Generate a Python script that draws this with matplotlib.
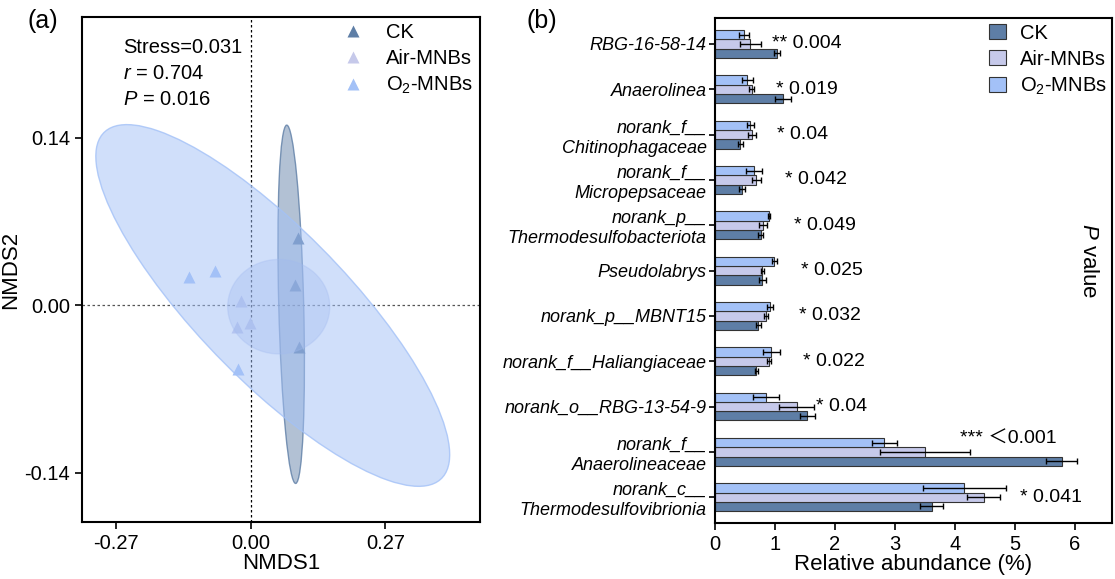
import numpy as np
import matplotlib.pyplot as plt
from matplotlib.patches import Ellipse, Patch
from matplotlib.lines import Line2D

plt.rcParams['font.family'] = ['Liberation Sans', 'DejaVu Sans']
plt.rcParams['mathtext.fontset'] = 'custom'
plt.rcParams['mathtext.rm'] = 'Liberation Sans'
plt.rcParams['mathtext.it'] = 'Liberation Sans:italic'
plt.rcParams['axes.unicode_minus'] = False

groups = ['CK', 'Air-MNBs', 'O$_2$-MNBs']
colors = ['#5e7ea6', '#c6c9ea', '#a3c1f7']

# NMDS site scores
ck_x = [0.094, 0.088, 0.096]
ck_y = [0.056, 0.017, -0.035]
air_x = [-0.020, -0.002, -0.028]
air_y = [0.004, -0.015, -0.018]
o2_x = [-0.124, -0.072, -0.026]
o2_y = [0.024, 0.029, -0.053]

# confidence ellipses (CK, Air, O2)
ell_cx = [0.081, 0.056, 0.044]
ell_cy = [0.001, -0.001, 0.0]
ell_w = [0.300, 0.205, 0.755]
ell_h = [0.050, 0.079, 0.161]
ell_ang = [93.5, 0.0, -20.3]

# relative abundance of the differential genera (%)
taxa = ['RBG-16-58-14', 'Anaerolinea', 'norank_f__\nChitinophagaceae',
        'norank_f__\nMicropepsaceae', 'norank_p__\nThermodesulfobacteriota',
        'Pseudolabrys', 'norank_p__MBNT15', 'norank_f__Haliangiaceae',
        'norank_o__RBG-13-54-9', 'norank_f__\nAnaerolineaceae',
        'norank_c__\nThermodesulfovibrionia']
ck_mean = [1.04, 1.13, 0.42, 0.45, 0.76, 0.79, 0.72, 0.69, 1.54, 5.78, 3.61]
ck_err = [0.05, 0.13, 0.04, 0.05, 0.04, 0.06, 0.04, 0.03, 0.13, 0.26, 0.19]
air_mean = [0.59, 0.61, 0.62, 0.69, 0.80, 0.79, 0.85, 0.90, 1.36, 3.50, 4.48]
air_err = [0.18, 0.04, 0.07, 0.08, 0.06, 0.03, 0.03, 0.04, 0.29, 0.75, 0.28]
o2_mean = [0.48, 0.54, 0.59, 0.65, 0.90, 0.99, 0.92, 0.94, 0.85, 2.82, 4.16]
o2_err = [0.08, 0.09, 0.06, 0.14, 0.02, 0.04, 0.05, 0.14, 0.22, 0.21, 0.69]
p_text = ['** 0.004', '* 0.019', '* 0.04', '* 0.042', '* 0.049', '* 0.025',
          '* 0.032', '* 0.022', '* 0.04', '*** \uff1c0.001', '* 0.041']
p_x = [0.95, 1.01, 1.04, 1.16, 1.31, 1.44, 1.40, 1.47, 1.68, 4.08, 5.09]
p_dy = [0, 0, 0, 0, 0, 0, 0, 0, 0, 0.27, 0]

fig = plt.figure(figsize=(11.15, 5.79), dpi=100)

# ---- (a) NMDS ----
ax1 = fig.add_axes([0.0735, 0.0984, 0.357, 0.872])
ax1.axvline(0, color='black', lw=0.9, ls=(0, (2, 2)), zorder=1)
ax1.axhline(0, color='#555555', lw=0.9, ls=(0, (2, 2)), zorder=1)

for xs, ys, c in zip([ck_x, air_x, o2_x], [ck_y, air_y, o2_y], colors):
    ax1.plot(xs, ys, '^', color=c, ms=9, mec='none', zorder=2)

# CK first, O2 last so the big ellipse tints the overlaps
ell_fill = ['#5e7ea6', '#9fb3e6', '#a3c1f7']
ell_alpha = [0.48, 0.35, 0.5]
for i in [0, 1, 2]:
    e = Ellipse((ell_cx[i], ell_cy[i]), ell_w[i], ell_h[i], angle=ell_ang[i],
                facecolor=ell_fill[i], alpha=ell_alpha[i], edgecolor='none', zorder=3)
    ax1.add_patch(e)
    e2 = Ellipse((ell_cx[i], ell_cy[i]), ell_w[i], ell_h[i], angle=ell_ang[i],
                 facecolor='none', edgecolor=ell_fill[i], lw=1.0,
                 alpha=[0.8, 0.3, 0.8][i], zorder=3)
    ax1.add_patch(e2)

ax1.set_xlim(-0.339, 0.46)
ax1.set_ylim(-0.181, 0.241)
ax1.set_xticks([-0.27, 0, 0.27])
ax1.set_xticklabels(['-0.27', '0.00', '0.27'])
ax1.set_yticks([-0.14, 0, 0.14])
ax1.set_yticklabels(['-0.14', '0.00', '0.14'])
ax1.tick_params(labelsize=14.5, length=5, width=1.2)
for s in ax1.spines.values():
    s.set_linewidth(1.5)
ax1.set_xlabel('NMDS1', fontsize=16, labelpad=0)
ax1.set_ylabel('NMDS2', fontsize=16, labelpad=2)

ax1.text(0.103, 0.94, 'Stress=0.031', transform=ax1.transAxes, fontsize=14.5, va='center')
ax1.text(0.103, 0.888, '$\\it{r}$ = 0.704', transform=ax1.transAxes, fontsize=14.5, va='center')
ax1.text(0.103, 0.836, '$\\it{P}$ = 0.016', transform=ax1.transAxes, fontsize=14.5, va='center')

h1 = [Line2D([], [], marker='^', ls='none', color=c, ms=9, mec='none') for c in colors]
ax1.legend(h1, groups, loc='upper right', bbox_to_anchor=(1.012, 1.013), frameon=False,
           fontsize=14.5, handlelength=1.0, handletextpad=1.1, labelspacing=0.35,
           borderaxespad=0.2)

fig.text(0.025, 0.963, '(a)', fontsize=18, va='center')
fig.text(0.472, 0.963, '(b)', fontsize=18, va='center')

# ---- (b) differential genera ----
ax2 = fig.add_axes([0.6413, 0.0967, 0.356, 0.872])
ypos = np.arange(len(taxa))[::-1]
bh = 0.205
ekw = dict(ecolor='black', elinewidth=1, capsize=2.5, capthick=1)
ax2.barh(ypos - bh, ck_mean, height=bh, xerr=ck_err, color=colors[0],
         edgecolor='#333333', lw=0.8, error_kw=ekw, label=groups[0])
ax2.barh(ypos, air_mean, height=bh, xerr=air_err, color=colors[1],
         edgecolor='#333333', lw=0.8, error_kw=ekw, label=groups[1])
ax2.barh(ypos + bh, o2_mean, height=bh, xerr=o2_err, color=colors[2],
         edgecolor='#333333', lw=0.8, error_kw=ekw, label=groups[2])

for y, t, x, dy in zip(ypos, p_text, p_x, p_dy):
    ax2.text(x, y + dy, t, fontsize=14, va='center', ha='left',
             family=['Liberation Sans', 'Noto Sans CJK SC'])

ax2.set_yticks(ypos)
ax2.set_yticklabels(taxa, fontsize=13, style='italic', linespacing=1.25)
ax2.set_ylim(-0.57, 10.57)
ax2.set_xlim(0, 6.62)
ax2.set_xticks(range(7))
ax2.tick_params(axis='x', labelsize=14.5, length=5, width=1.2)
ax2.tick_params(axis='y', length=4, width=1.2, pad=2)
for s in ax2.spines.values():
    s.set_linewidth(1.5)
ax2.set_xlabel('Relative abundance (%)', fontsize=16, labelpad=0)
ax2.text(0.942, 0.52, '$\\it{P}$ value', transform=ax2.transAxes, fontsize=16,
         rotation=270, va='center', ha='center')

h2 = [Patch(facecolor=c, edgecolor='#333333', lw=0.8) for c in colors]
ax2.legend(h2, groups, loc='upper right', bbox_to_anchor=(1.017, 1.013), frameon=False,
           fontsize=14.5, handlelength=0.8, handleheight=0.75, handletextpad=0.7,
           labelspacing=0.35, borderaxespad=0.2)

fig.savefig('out.png', dpi=100)
